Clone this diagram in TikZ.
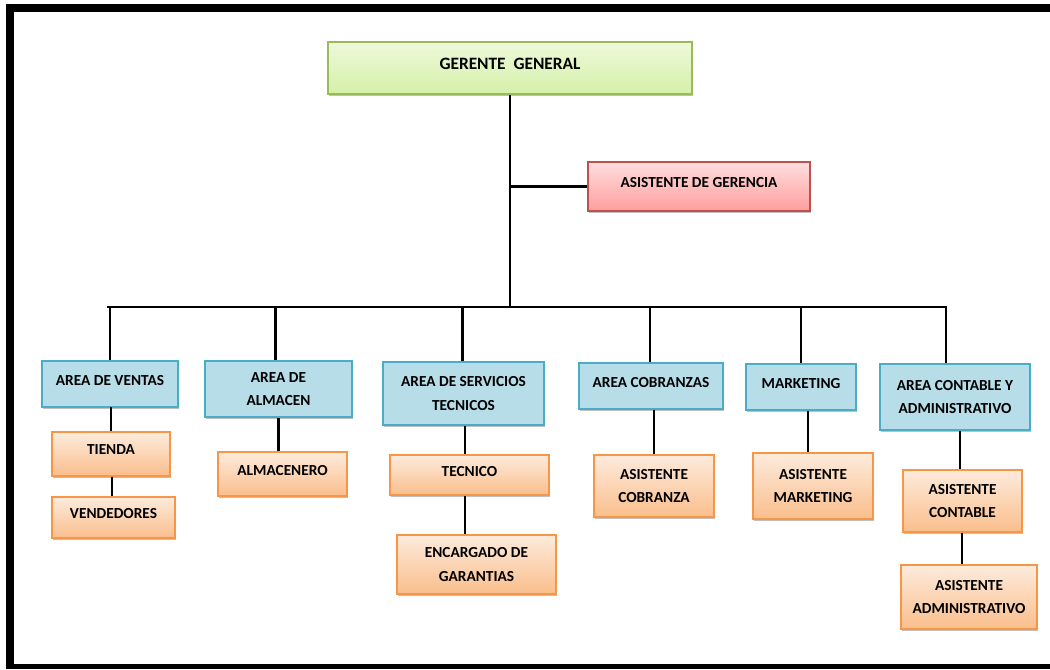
\documentclass[tikz,border=0pt]{standalone}
\usepackage{fontspec}
\setmainfont{Carlito}
\usetikzlibrary{shadows,calc}
\definecolor{gTop}{RGB}{238,249,218}
\definecolor{gBot}{RGB}{212,240,168}
\definecolor{gBor}{RGB}{155,187,89}
\definecolor{rTop}{RGB}{255,222,222}
\definecolor{rBot}{RGB}{255,158,158}
\definecolor{rBor}{RGB}{192,80,77}
\definecolor{bFill}{RGB}{183,222,232}
\definecolor{bBor}{RGB}{75,172,198}
\definecolor{oTop}{RGB}{253,235,220}
\definecolor{oBot}{RGB}{250,190,140}
\definecolor{oBor}{RGB}{247,150,70}
\tikzset{
  box/.style={rectangle, inner sep=0pt, align=center,
    font=\fontsize{11.5}{17.5}\selectfont\bfseries,
    drop shadow={shadow xshift=1pt, shadow yshift=-1.5pt, opacity=0.25, fill=black}},
  greenbox/.style={box, draw=gBor, line width=1.5pt, top color=gTop, bottom color=gBot},
  redbox/.style={box, draw=rBor, line width=1.2pt, top color=rTop, bottom color=rBot},
  bluebox/.style={box, draw=bBor, line width=1.6pt, fill=bFill},
  orangebox/.style={box, draw=oBor, line width=1pt, top color=oTop, bottom color=oBot},
  oneline/.style={execute at end node={\rule[-6pt]{0pt}{6pt}}},
  wh/.style 2 args={minimum width=#1, minimum height=#2},
  conn/.style={draw=black, line width=2.2pt}
}
\begin{document}
\begin{tikzpicture}[x=0.75pt,y=-0.75pt]
\useasboundingbox (0,0) rectangle (1050,669);
\fill[white] (0,0) rectangle (1050,669);
\fill[black] (6,4) rectangle (1050,12);
\fill[black] (6,4) rectangle (14,669);
\fill[black] (6,664) rectangle (1050,669);

% top
\node[greenbox, wh={273pt}{39pt}, oneline, font=\fontsize{13}{17}\selectfont\bfseries] (gg) at (510,68) {GERENTE\ \ GENERAL};
\node[redbox, wh={166.5pt}{36.75pt}, oneline] (ag) at (699,186.5) {ASISTENTE DE GERENCIA};

% areas
\node[bluebox, wh={102pt}{34.5pt}, oneline] (av) at (110,384) {AREA DE VENTAS};
\node[bluebox, wh={110.25pt}{42pt}] (aa) at (278.5,389) {AREA DE\\ALMACEN};
\node[bluebox, wh={120.75pt}{47.25pt}] (ast) at (463.5,393.5) {AREA DE SERVICIOS\\TECNICOS};
\node[bluebox, wh={108pt}{34.5pt}, oneline] (ac) at (651,386) {AREA COBRANZAS};
\node[bluebox, wh={82.5pt}{34.5pt}, oneline] (mk) at (801,387) {MARKETING};
\node[bluebox, wh={112.5pt}{49.5pt}] (acy) at (955,397) {AREA CONTABLE Y\\ADMINISTRATIVO};

% staff
\node[orangebox, wh={88.5pt}{33pt}, oneline] (ti) at (111,454) {TIENDA};
\node[orangebox, wh={92.25pt}{30.75pt}, oneline] (ve) at (113.5,517.5) {VENDEDORES};
\node[orangebox, wh={96.75pt}{33pt}, oneline] (al) at (282.5,474) {ALMACENERO};
\node[orangebox, wh={119.25pt}{30pt}, oneline] (te) at (469.5,475) {TECNICO};
\node[orangebox, wh={119.25pt}{44.25pt}] (eg) at (476.5,564.5) {ENCARGADO DE\\GARANTIAS};
\node[orangebox, wh={90pt}{46.5pt}] (aco) at (654,486) {ASISTENTE\\COBRANZA};
\node[orangebox, wh={90pt}{49.5pt}] (am) at (813,486) {ASISTENTE\\MARKETING};
\node[orangebox, wh={89.25pt}{46.5pt}] (act) at (962.5,501) {ASISTENTE\\CONTABLE};
\node[orangebox, wh={102pt}{48pt}] (aad) at (969,597) {ASISTENTE\\ADMINISTRATIVO};

% connectors
\coordinate (barL) at (107,307);
\coordinate (barR) at (946,307);
\draw[conn] (gg.south) -- (gg.south |- barL);
\draw[conn] (gg.south |- ag.west) -- (ag.west);
\draw[conn, line join=miter] (barL) -- (barR) -- (barR |- acy.north);
\draw[conn] (av.north |- barL) -- (av.north);
\draw[conn] ([xshift=-2.6pt]aa.north |- barL) -- ([xshift=-2.6pt]aa.north);
\draw[conn] ([xshift=-1.1pt]ast.north |- barL) -- ([xshift=-1.1pt]ast.north);
\draw[conn] ([xshift=-0.75pt]ac.north |- barL) -- ([xshift=-0.75pt]ac.north);
\draw[conn] (mk.north |- barL) -- (mk.north);

\draw[conn] (av.south) -- (av.south -| ti.north) -- (ti.north);
\draw[conn] ([xshift=0.75pt]ti.south) -- ([xshift=0.75pt]ti.south |- ve.north);
\draw[conn] (aa.south) -- (aa.south |- al.north);
\draw[conn] ([xshift=1.1pt]ast.south) -- ([xshift=1.1pt]ast.south |- te.north);
\draw[conn] ([xshift=1.1pt]ast.south |- te.south) -- ([xshift=1.1pt]ast.south |- eg.north);
\draw[conn] (aco.north |- ac.south) -- (aco.north);
\draw[conn] ([xshift=-3.75pt]am.north |- mk.south) -- ([xshift=-3.75pt]am.north);
\draw[conn] ([xshift=-1.9pt]act.north |- acy.south) -- ([xshift=-1.9pt]act.north);
\draw[conn] ([xshift=-0.4pt]act.south) -- ([xshift=-0.4pt]act.south |- aad.north);
\end{tikzpicture}
\end{document}
